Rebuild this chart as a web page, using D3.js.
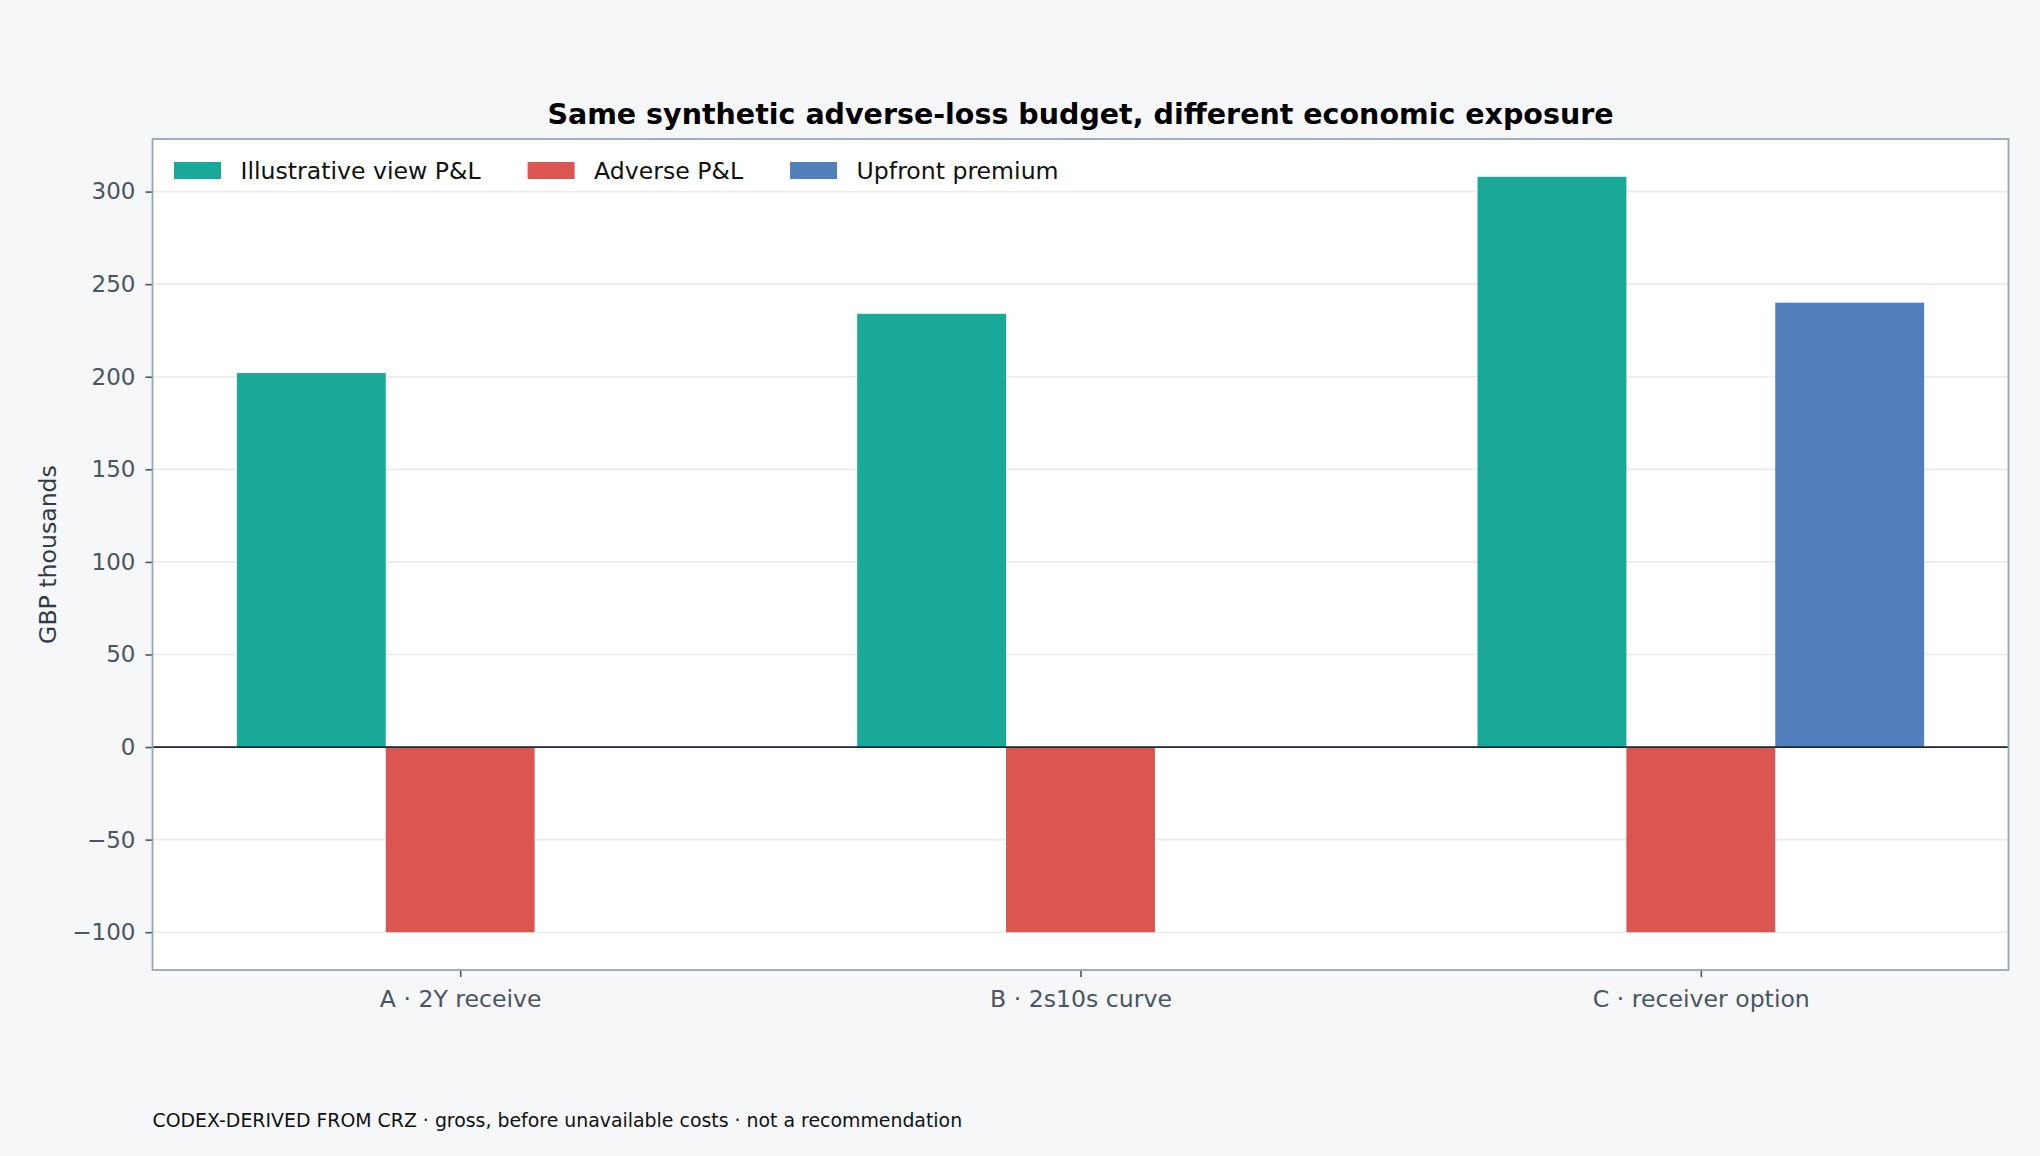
<!DOCTYPE html>
<html>
<head>
<meta charset="utf-8">
<script src="https://cdn.jsdelivr.net/npm/d3@7"></script>
<style>
    html, body { margin: 0; padding: 0; background: #f5f7f9; }
    svg { display: block; font-family: "DejaVu Sans", sans-serif; }
    .tick text { fill: #4b5563; }
    .tick line { stroke: #4b5563; }
</style>
</head>
<body>
<div id="chart"></div>
<script>
/*jshint esversion: 6 */

const categories = ["A · 2Y receive", "B · 2s10s curve", "C · receiver option"];
const viewPnl = [202, 234, 308];
const adversePnl = [-100, -100, -100];
const upfrontPremium = [0, 0, 240];
const seriesNames = ["Illustrative view P&L", "Adverse P&L", "Upfront premium"];
const yTicks = [-100, -50, 0, 50, 100, 150, 200, 250, 300];

const colors = ["#1aa898", "#db5551", "#507fbb"];

function drawChart(){
    const w = 2040;
    const h = 1156;
    const left = 152.5, right = 2008.5, top = 139, bottom = 970;
    const barW = 0.24;

    const svg = d3.select("#chart").append("svg")
        .attr("width", w)
        .attr("height", h);

    svg.append("rect")
        .attr("width", w)
        .attr("height", h)
        .attr("fill", "#f5f7f9");

    // plot face
    svg.append("rect")
        .attr("x", left)
        .attr("y", top)
        .attr("width", right - left)
        .attr("height", bottom - top)
        .attr("fill", "#ffffff");

    // matplotlib style 5% margins on both axes
    const xScale = d3.scaleLinear()
        .domain([-0.496, 2.496])
        .range([left, right]);

    const yScale = d3.scaleLinear()
        .domain([-120.4, 328.4])
        .range([bottom, top]);

    // grid
    svg.append("g")
        .selectAll("line")
        .data(yTicks)
        .enter()
        .append("line")
        .attr("x1", left)
        .attr("x2", right)
        .attr("y1", (d) => yScale(d))
        .attr("y2", (d) => yScale(d))
        .attr("stroke", "#ebebeb")
        .attr("stroke-width", 1.6);

    const series = [viewPnl, adversePnl, upfrontPremium];
    const offsets = [-barW, 0, barW];

    series.forEach((vals, s) => {
        svg.append("g")
            .selectAll("rect")
            .data(vals)
            .enter()
            .append("rect")
            .attr("x", (d, i) => xScale(i + offsets[s] - barW / 2))
            .attr("width", xScale(barW) - xScale(0))
            .attr("y", (d) => yScale(Math.max(0, d)))
            .attr("height", (d) => Math.abs(yScale(d) - yScale(0)))
            .attr("fill", colors[s]);
    });

    // zero line
    svg.append("line")
        .attr("x1", left)
        .attr("x2", right)
        .attr("y1", yScale(0))
        .attr("y2", yScale(0))
        .attr("stroke", "#1f2937")
        .attr("stroke-width", 1.7);

    // axes
    const yAxis = svg.append("g")
        .attr("transform", "translate(" + left + ",0)")
        .call(d3.axisLeft(yScale)
            .tickValues(yTicks)
            .tickSize(7)
            .tickPadding(10)
            .tickFormat((d) => d < 0 ? "\u2212" + Math.abs(d) : d));
    yAxis.select(".domain").remove();
    yAxis.selectAll("text").attr("font-size", "23px").attr("font-family", "DejaVu Sans");
    yAxis.selectAll("line").attr("stroke-width", 1.6);

    const xAxis = svg.append("g")
        .attr("transform", "translate(0," + bottom + ")")
        .call(d3.axisBottom(xScale)
            .tickValues([0, 1, 2])
            .tickSize(7)
            .tickPadding(13)
            .tickFormat((d) => categories[d]));
    xAxis.select(".domain").remove();
    xAxis.selectAll("text").attr("font-size", "23.6px").attr("font-family", "DejaVu Sans");
    xAxis.selectAll("line").attr("stroke-width", 1.6);

    // frame
    svg.append("rect")
        .attr("x", left)
        .attr("y", top)
        .attr("width", right - left)
        .attr("height", bottom - top)
        .attr("fill", "none")
        .attr("stroke", "#9aa5b1")
        .attr("stroke-width", 1.8);

    // legend, laid out from text widths
    const legend = svg.append("g");
    var lx = 174;
    seriesNames.forEach((name, i) => {
        legend.append("rect")
            .attr("x", lx)
            .attr("y", 162)
            .attr("width", 47)
            .attr("height", 17)
            .attr("fill", colors[i]);
        const t = legend.append("text")
            .attr("x", lx + 66.5)
            .attr("y", 179)
            .attr("font-size", "23.6px")
            .attr("fill", "#111111")
            .text(name);
        lx = lx + 66.5 + t.node().getComputedTextLength() + 47;
    });

    svg.append("text")
        .attr("x", (left + right) / 2)
        .attr("y", 124)
        .attr("text-anchor", "middle")
        .attr("font-size", "28.5px")
        .attr("font-weight", "bold")
        .attr("fill", "#000000")
        .text("Same synthetic adverse-loss budget, different economic exposure");

    svg.append("text")
        .attr("transform", "translate(56," + ((top + bottom) / 2) + ") rotate(-90)")
        .attr("text-anchor", "middle")
        .attr("font-size", "23.6px")
        .attr("fill", "#333a44")
        .text("GBP thousands");

    svg.append("text")
        .attr("x", left)
        .attr("y", 1127)
        .attr("font-size", "18.9px")
        .attr("fill", "#111111")
        .text("CODEX-DERIVED FROM CRZ · gross, before unavailable costs · not a recommendation");
}

drawChart();
</script>
</body>
</html>
